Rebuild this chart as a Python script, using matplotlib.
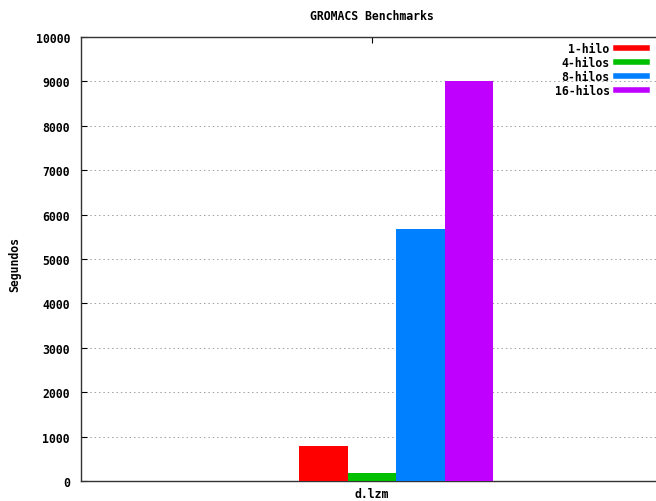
import matplotlib
matplotlib.use("Agg")
import matplotlib.pyplot as plt
from matplotlib.lines import Line2D

# Benchmark results (seconds) for the single input case
case_names = ["d.lzm"]
series_names = ["1-hilo", "4-hilos", "8-hilos", "16-hilos"]
series_values = [780, 170, 5670, 9020]
series_colors = ["#ff0000", "#00c000", "#0080ff", "#c000ff"]
y_ticks = [0, 1000, 2000, 3000, 4000, 5000, 6000, 7000, 8000, 9000, 10000]

W, H = 656, 502
FONT = dict(family="DejaVu Sans Mono", weight="bold", size=8.3)

fig = plt.figure(figsize=(W / 100, H / 100), dpi=100)
# axes run slightly past the right edge of the canvas
ax = fig.add_axes([81 / W, 20 / H, (663 - 81) / W, 444 / H])

# clustered bars: one unit wide each, sitting right of the tick position
offsets = [-1, 0, 1, 2]
for off, name, val, col in zip(offsets, series_names, series_values, series_colors):
    ax.bar(0 + off, val, width=1.0, color=col, edgecolor="none", label=name, zorder=3)

ax.set_xlim(-6, 6)
ax.set_ylim(0, 10000)
ax.set_yticks(y_ticks)
ax.set_yticklabels([str(t) for t in y_ticks], fontdict=FONT)
ax.set_xticks([0])
ax.set_xticklabels(case_names, fontdict=FONT)

ax.tick_params(axis="y", direction="in", length=4, width=0.8, pad=8, colors="black")
ax.tick_params(axis="x", direction="in", length=4, width=0.8, pad=4,
               top=True, colors="black")

for side in ["left", "bottom", "top"]:
    ax.spines[side].set_linewidth(1.0)
    ax.spines[side].set_color("#333333")
ax.spines["right"].set_visible(False)

ax.yaxis.grid(True, color="#a0a0a0", linewidth=0.7, linestyle=(0, (1.5, 3)), zorder=0)
ax.set_axisbelow(True)

fig.text(372 / W, 1 - 17 / H, "GROMACS Benchmarks", ha="center", va="center", **FONT)
fig.text(15 / W, 1 - 265 / H, "Segundos", ha="center", va="center", rotation=90, **FONT)

handles = [Line2D([], [], color=c, linewidth=4) for c in series_colors]
ax.legend(handles, series_names, loc="upper right",
          bbox_to_anchor=(647 / W, 1 - 43 / H), bbox_transform=fig.transFigure,
          frameon=False, markerfirst=False, handlelength=2.7, handletextpad=0.55,
          labelspacing=0.08, borderpad=0, borderaxespad=0,
          prop=dict(family="DejaVu Sans Mono", weight="bold", size=8.3))

fig.savefig("out.png", dpi=100)
